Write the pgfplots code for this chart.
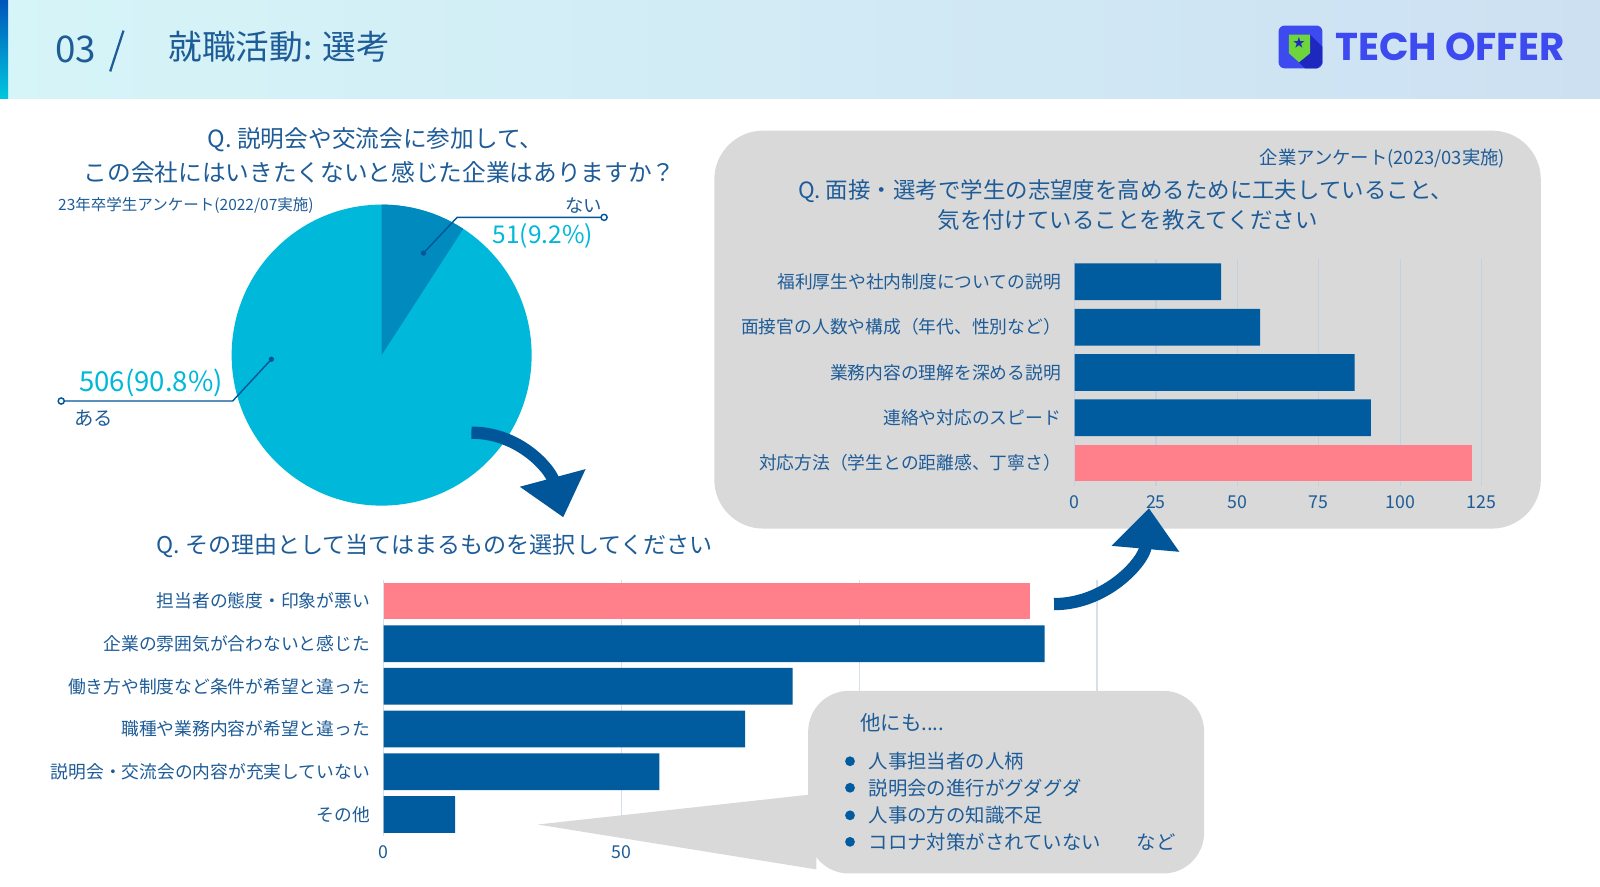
\documentclass[border=0pt]{standalone}
\usepackage{fontspec}
\setmainfont{Noto Sans CJK JP}
\newfontfamily\logofont{Poppins}
\usepackage{pgfplots}
\pgfplotsset{compat=1.18}
\usetikzlibrary{arrows.meta}

\definecolor{textblue}{RGB}{30,92,152}
\definecolor{cyanpie}{RGB}{0,184,217}
\definecolor{darkpie}{RGB}{0,138,190}
\definecolor{barblue}{RGB}{0,91,159}
\definecolor{pinkbar}{RGB}{255,128,138}
\definecolor{panelgray}{RGB}{217,217,217}
\definecolor{arrowblue}{RGB}{0,86,152}
\definecolor{hdrL}{RGB}{214,245,248}
\definecolor{hdrR}{RGB}{205,224,242}
\definecolor{bandT}{RGB}{0,85,187}
\definecolor{bandB}{RGB}{0,200,222}
\definecolor{logoblue}{RGB}{60,74,240}
\definecolor{logodark}{RGB}{30,40,190}
\definecolor{logogreen}{RGB}{110,214,60}
\definecolor{gridA}{RGB}{196,208,222}
\definecolor{gridB}{RGB}{214,224,236}

\newcommand\fs[1]{\fontsize{#1}{#1}\selectfont}

% data
\def\aru{506}
\def\nai{51}

\begin{document}
\begin{tikzpicture}[x=0.5pt,y=-0.5pt]
% page and header
\fill[white] (0,0) rectangle (1568,869);
\shade[left color=hdrL, right color=hdrR] (0,0) rectangle (1568,97);
\shade[top color=bandT, bottom color=bandB] (0,0) rectangle (8,97);
\node[text=textblue, font=\fs{18pt}] at (74,48) {03};
\draw[textblue, line width=1.1pt] (108,70) -- (121,30);
\node[text=textblue, font=\fs{16.5pt}, anchor=west] at (158,46) {就職活動: 選考};

% logo
\fill[logoblue, rounded corners=3pt] (1253,25) rectangle (1296,67);
\fill[logodark] (1284,34) -- (1296,46) -- (1296,62) -- (1291,67) -- (1279,67) -- (1273,61) -- (1284,52) -- cycle;
\fill[logogreen] (1263,34) -- (1284,34) -- (1284,52) -- (1273,61) -- (1263,52) -- cycle;
\node[text=logodark, font=\fs{6pt}] at (1273,42) {★};
\node[text=logoblue, font=\logofont\bfseries\fs{19pt}, anchor=west, inner sep=0pt] at (1308,46) {TECH OFFER};

% right panel
\fill[panelgray, rounded corners=24pt] (700,128) rectangle (1510,518);
\node[text=textblue, font=\fs{9pt}, anchor=east] at (1482,155) {企業アンケート(2023/03実施)};
\node[text=textblue, font=\fs{11pt}] at (1103,187) {Q. 面接・選考で学生の志望度を高めるために工夫していること、};
\node[text=textblue, font=\fs{11pt}] at (1105,216) {気を付けていることを教えてください};

% pie titles
\node[text=textblue, font=\fs{11.6pt}] at (368,137) {Q. 説明会や交流会に参加して、};
\node[text=textblue, font=\fs{11.6pt}] at (372,169) {この会社にはいきたくないと感じた企業はありますか？};
\node[text=textblue, font=\fs{7.6pt}, anchor=west] at (50,201) {23年卒学生アンケート(2022/07実施)};

% pie
\pgfmathsetmacro\angN{\nai/(\nai+\aru)*360}
\begin{axis}[at={(187pt,-174pt)}, anchor=center, hide axis, scale only axis,
  width=147pt, height=147.5pt, xmin=-1, xmax=1, ymin=-1, ymax=1]
  \fill[cyanpie] (axis cs:0,0) circle[radius=1];
  \fill[darkpie] (axis cs:0,0) -- (axis cs:0,1)
    arc[start angle=90, end angle={90-\angN}, radius=1] -- cycle;
\end{axis}

% pie leaders
\draw[arrowblue, line width=0.7pt] (415,248) -- (448,213) -- (589,213);
\fill[arrowblue] (415,248) circle[radius=1.3pt];
\draw[arrowblue, line width=0.7pt, fill=white] (592,213) circle[radius=1.5pt];
\node[text=textblue, font=\fs{9pt}] at (572,201) {ない};
\node[text=cyanpie, font=\fs{12pt}] at (532,231) {\nai(9.2\%)};
\draw[arrowblue, line width=0.7pt] (266,352) -- (228,393) -- (63,393);
\fill[arrowblue] (266,352) circle[radius=1.3pt];
\draw[arrowblue, line width=0.7pt, fill=white] (60,393) circle[radius=1.5pt];
\node[text=cyanpie, font=\fs{13.5pt}] at (148,375) {\aru(90.8\%)};
\node[text=textblue, font=\fs{9.5pt}] at (92,410) {ある};

% right bar chart
\begin{axis}[at={(526.5pt,-238pt)}, anchor=south west, scale only axis,
  width=199.5pt, height=111pt,
  xbar, xmin=0, xmax=125, ymin=-0.5, ymax=4.5, y dir=reverse,
  axis line style={draw=none}, major tick length=0pt,
  xtick={0,25,...,125}, ytick={0,...,4},
  yticklabels={福利厚生や社内制度についての説明, 面接官の人数や構成（年代、性別など）, 業務内容の理解を深める説明, 連絡や対応のスピード, 対応方法（学生との距離感、丁寧さ）},
  xmajorgrids, grid style={gridA, line width=0.6pt},
  /pgf/number format/assume math mode=true,
  tick label style={font=\fs{8.7pt}, text=textblue, inner sep=0pt},
  xticklabel style={anchor=center, yshift=-8pt},
  yticklabel style={anchor=east, xshift=-6.5pt},
  bar width=18pt]
  \addplot[fill=barblue, draw=none, bar shift=0pt] coordinates {(45,0) (57,1) (86,2) (91,3)};
  \addplot[fill=pinkbar, draw=none, bar shift=0pt] coordinates {(122,4)};
\end{axis}

% bottom title
\node[text=textblue, font=\fs{11.3pt}] at (426,535) {Q. その理由として当てはまるものを選択してください};

% bottom bar chart
\begin{axis}[at={(188pt,-409.5pt)}, anchor=south west, scale only axis,
  width=349.5pt, height=125.5pt,
  xbar, xmin=0, xmax=150, ymin=-0.5, ymax=5.5, y dir=reverse,
  axis line style={draw=none}, major tick length=0pt,
  xtick={0,50,100,150}, xticklabels={0,50,{},{}}, ytick={0,...,5},
  yticklabels={担当者の態度・印象が悪い, 企業の雰囲気が合わないと感じた, 働き方や制度など条件が希望と違った, 職種や業務内容が希望と違った, 説明会・交流会の内容が充実していない, その他},
  xmajorgrids, grid style={gridB, line width=0.6pt},
  /pgf/number format/assume math mode=true,
  tick label style={font=\fs{8.7pt}, text=textblue, inner sep=0pt},
  xticklabel style={anchor=center, yshift=-8pt},
  yticklabel style={anchor=east, xshift=-6.5pt},
  bar width=18pt]
  \addplot[fill=pinkbar, draw=none, bar shift=0pt] coordinates {(136,0)};
  \addplot[fill=barblue, draw=none, bar shift=0pt] coordinates {(139,1) (86,2) (76,3) (58,4) (15,5)};
\end{axis}

% callout bubble
\fill[panelgray] (527,808) -- (800,778) -- (800,852) -- cycle;
\fill[panelgray, rounded corners=20pt] (792,677) rectangle (1180,856);
\node[text=textblue, font=\fs{10pt}, anchor=west] at (836,708) {他にも....};
\foreach \yy/\tt in {746/人事担当者の人柄, 772/説明会の進行がグダグダ, 799/人事の方の知識不足, 825/コロナ対策がされていない}{
  \fill[barblue] (833,\yy) circle[radius=2.4pt];
  \node[text=textblue, font=\fs{9.5pt}, anchor=west, inner sep=0pt] at (851,\yy) {\tt};
}
\node[text=textblue, font=\fs{9.5pt}, inner sep=0pt] at (1133,825) {など};

% arrows
\draw[arrowblue, line width=6pt, -{Triangle[length=20pt,width=32pt]}]
  (462,424) to[out=0, in=105] (552,507);
\draw[arrowblue, line width=6pt, -{Triangle[length=20pt,width=32pt]}]
  (1033,592) to[out=0, in=-95] (1126,498);

\pgfresetboundingbox
\path[use as bounding box] (0,0) rectangle (1568,869);
\end{tikzpicture}
\end{document}
